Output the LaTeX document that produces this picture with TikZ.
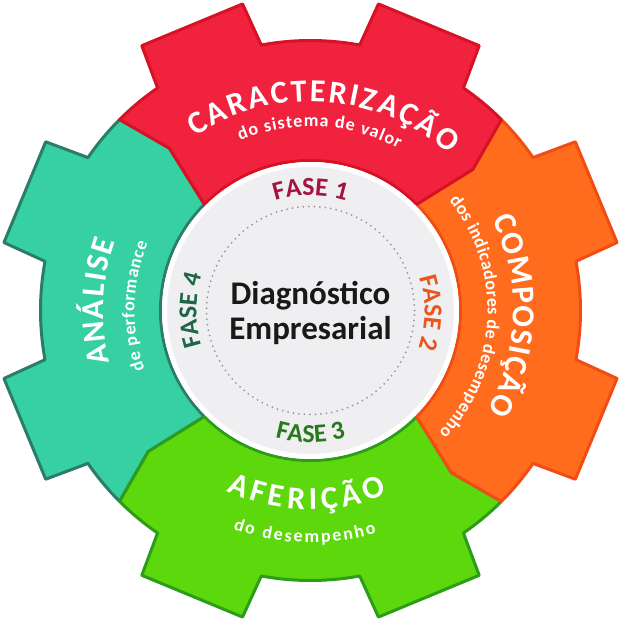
\documentclass[tikz,border=0pt]{standalone}
\usepackage{fontspec}
\setmainfont{Carlito}
\usepackage{tikz}
\usetikzlibrary{decorations.text}

\definecolor{redfill}{RGB}{240,34,62}
\definecolor{reddraw}{RGB}{214,18,36}
\definecolor{orangefill}{RGB}{255,108,30}
\definecolor{orangedraw}{RGB}{240,76,20}
\definecolor{greenfill}{RGB}{92,216,12}
\definecolor{greendraw}{RGB}{44,156,26}
\definecolor{tealfill}{RGB}{54,208,162}
\definecolor{tealdraw}{RGB}{44,124,108}
\definecolor{discfill}{RGB}{239,239,241}
\definecolor{dotgray}{RGB}{150,150,155}
\definecolor{faseone}{RGB}{164,20,66}
\definecolor{fasetwo}{RGB}{234,86,30}
\definecolor{fasethree}{RGB}{40,120,32}
\definecolor{fasefour}{RGB}{30,102,70}

\begin{document}
\begin{tikzpicture}[x=1pt, y=1pt,
    sector/.style={line width=3pt, line join=round},
    title/.style={decorate, decoration={text along path, text align=fit to path, text color=white, text={|\bfseries\fontsize{32}{32}\selectfont|#1}}},
    subtitle/.style={decorate, decoration={text along path, text align=fit to path, text color=white, text={|\bfseries\fontsize{18}{18}\selectfont|#1}}},
    phase/.style 2 args={decorate, decoration={text along path, text align=center, text color=#1, text={|\bfseries\fontsize{26}{26}\selectfont|#2}}}]
    \useasboundingbox[fill=white] (-310.5,-310.5) rectangle (310.5,310.5);
    \draw[sector, fill=tealfill, draw=tealdraw] (225:270) -- (221:215) -- (225:150) arc[start angle=225, end angle=135, radius=150] -- (131:215) -- (135:270) arc[start angle=135, end angle=145.5, radius=270] -- (147.5:314) -- (167.5:314) -- (169.5:270) arc[start angle=169.5, end angle=190.5, radius=270] -- (192.5:314) -- (212.5:314) -- (214.5:270) arc[start angle=214.5, end angle=225, radius=270] -- cycle;
    \draw[sector, fill=greenfill, draw=greendraw] (-45:270) -- (-49:215) -- (-45:150) arc[start angle=-45, end angle=-135, radius=150] -- (-139:215) -- (-135:270) arc[start angle=-135, end angle=-124.5, radius=270] -- (-122.5:314) -- (-102.5:314) -- (-100.5:270) arc[start angle=-100.5, end angle=-79.5, radius=270] -- (-77.5:314) -- (-57.5:314) -- (-55.5:270) arc[start angle=-55.5, end angle=-45, radius=270] -- cycle;
    \draw[sector, fill=orangefill, draw=orangedraw] (45:270) -- (41:215) -- (45:150) arc[start angle=45, end angle=-45, radius=150] -- (-49:215) -- (-45:270) arc[start angle=-45, end angle=-34.5, radius=270] -- (-32.5:314) -- (-12.5:314) -- (-10.5:270) arc[start angle=-10.5, end angle=10.5, radius=270] -- (12.5:314) -- (32.5:314) -- (34.5:270) arc[start angle=34.5, end angle=45, radius=270] -- cycle;
    \draw[sector, fill=redfill, draw=reddraw] (135:270) -- (131:215) -- (135:150) arc[start angle=135, end angle=45, radius=150] -- (41:215) -- (45:270) arc[start angle=45, end angle=55.5, radius=270] -- (57.5:314) -- (77.5:314) -- (79.5:270) arc[start angle=79.5, end angle=100.5, radius=270] -- (102.5:314) -- (122.5:314) -- (124.5:270) arc[start angle=124.5, end angle=135, radius=270] -- cycle;
    \draw[fill=discfill, draw=white, line width=5pt] (0,0) circle[radius=146];
    \draw[dotgray, line width=2pt, line cap=round, dash pattern=on 0pt off 5.5pt] (0,0) circle[radius=104];
    \node[align=center, font=\bfseries\fontsize{33}{35}\selectfont, text=black!90] (diag) at (0,-2) {Diagnóstico\\Empresarial};
    \path[phase={faseone}{FASE 1}] (150:115) arc[start angle=150, end angle=30, radius=115];
    \path[phase={fasetwo}{FASE 2}] (59:114) arc[start angle=59, end angle=-61, radius=114];
    \path[phase={fasethree}{FASE 3}] (210:132) arc[start angle=210, end angle=330, radius=132];
    \path[phase={fasefour}{FASE 4}] (240:114) arc[start angle=240, end angle=120, radius=114];
    \path[title=CARACTERIZAÇÃO] (123.5:209) arc[start angle=123.5, end angle=48.5, radius=209];
    \path[subtitle=do sistema de valor] (112.5:184) arc[start angle=112.5, end angle=61.5, radius=184];
    \path[title=COMPOSIÇÃO] (26.5:203) arc[start angle=26.5, end angle=-29.5, radius=203];
    \path[subtitle=dos indicadores de desempenho] (38.5:177) arc[start angle=38.5, end angle=-43.5, radius=177];
    \path[title=AFERIÇÃO] (245:199) arc[start angle=245, end angle=292.5, radius=199];
    \path[subtitle=do desempenho] (250.5:232) arc[start angle=250.5, end angle=286.5, radius=232];
    \path[title=ANÁLISE] (194.5:207) arc[start angle=194.5, end angle=160.5, radius=207];
    \path[subtitle=de performance] (199.5:176) arc[start angle=199.5, end angle=157.5, radius=176];
\end{tikzpicture}
\end{document}
